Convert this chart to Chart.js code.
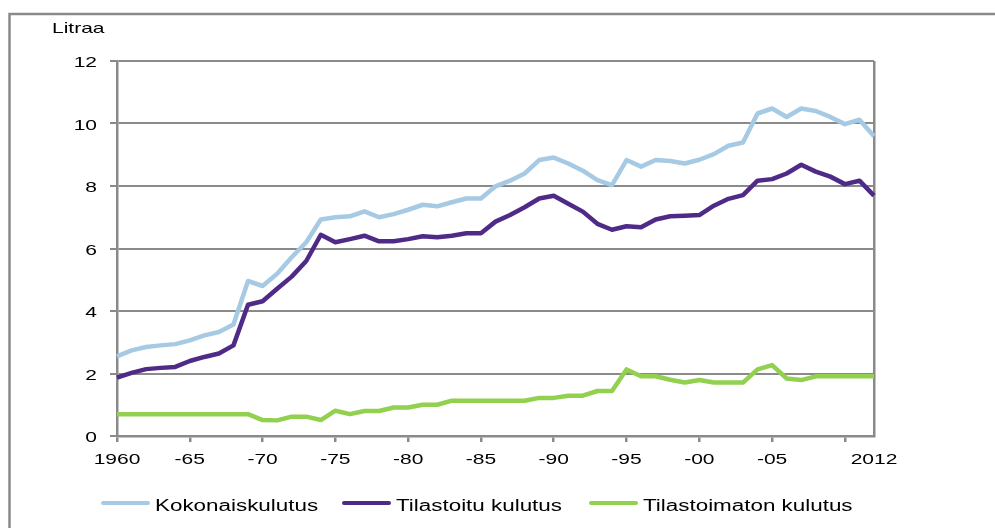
<!DOCTYPE html>
<html>
<head>
<meta charset="utf-8">
<script src="https://cdn.jsdelivr.net/npm/chart.js@4"></script>
<style>
  html, body { margin: 0; padding: 0; background: #fff; }
  #wrap { width: 995px; height: 528px; }
</style>
</head>
<body>
<div id="wrap"><canvas id="chart" width="995" height="528"></canvas></div>
<script>
const years = Array.from({ length: 53 }, (_, i) => 1960 + i);

const kokonais = [
	2.55, 2.74, 2.85, 2.9, 2.94, 3.06, 3.22, 3.33, 3.57, 4.96,
	4.8, 5.19, 5.72, 6.2, 6.93, 7.0, 7.03, 7.19, 7.0, 7.1,
	7.24, 7.4, 7.35, 7.48, 7.6, 7.6, 7.99, 8.17, 8.4, 8.83,
	8.91, 8.72, 8.49, 8.19, 8.03, 8.83, 8.62, 8.83, 8.8, 8.72,
	8.84, 9.02, 9.29, 9.39, 10.32, 10.48, 10.21, 10.48, 10.4, 10.21,
	9.98, 10.12, 9.59
];
const tilastoitu = [
	1.87, 2.02, 2.14, 2.18, 2.21, 2.4, 2.53, 2.64, 2.9, 4.2,
	4.31, 4.71, 5.1, 5.6, 6.44, 6.2, 6.3, 6.41, 6.23, 6.23,
	6.3, 6.39, 6.36, 6.41, 6.49, 6.49, 6.86, 7.07, 7.32, 7.6,
	7.69, 7.43, 7.18, 6.79, 6.6, 6.71, 6.68, 6.93, 7.03, 7.05,
	7.07, 7.37, 7.59, 7.71, 8.17, 8.22, 8.4, 8.68, 8.46, 8.3,
	8.06, 8.17, 7.69
];
const tilastoimaton = [
	0.7, 0.7, 0.7, 0.7, 0.7, 0.7, 0.7, 0.7, 0.7, 0.7,
	0.51, 0.5, 0.62, 0.62, 0.51, 0.81, 0.7, 0.8, 0.8, 0.91,
	0.91, 1.0, 1.0, 1.13, 1.13, 1.13, 1.13, 1.13, 1.13, 1.22,
	1.22, 1.29, 1.29, 1.44, 1.44, 2.13, 1.91, 1.91, 1.8, 1.71,
	1.79, 1.71, 1.71, 1.71, 2.13, 2.27, 1.84, 1.79, 1.91, 1.91,
	1.91, 1.91, 1.91
];

const seriesNames = ['Kokonaiskulutus', 'Tilastoitu kulutus', 'Tilastoimaton kulutus'];
const seriesColors = ['#a6cae3', '#4f2b87', '#92d050'];
const yTitle = 'Litraa';

// x-axis shows 1960, -65 ... -05 and 2012
function yearLabel(y) {
	if (y === 2012) return '2012';
	if (y === 1960) return '1960';
	if (y % 5 === 0 && y < 2010) return '-' + String(y % 100).padStart(2, '0');
	return '';
}

const FONT = "'Liberation Sans', Arial, sans-serif";
const GRID = '#8a8a8a';
const SX = 1.4; // the original's text is drawn horizontally stretched

function drawText(ctx, txt, x, y, size, align, baseline) {
	ctx.save();
	ctx.translate(x, y);
	ctx.scale(SX, 1);
	ctx.font = size + 'px ' + FONT;
	ctx.fillStyle = '#000';
	ctx.textAlign = align;
	ctx.textBaseline = baseline;
	ctx.fillText(txt, 0, 0);
	ctx.restore();
}

const decorPlugin = {
	id: 'decor',
	beforeDraw(chart) {
		const ctx = chart.ctx;
		ctx.save();
		// outer frame (only left + top edge visible)
		ctx.strokeStyle = GRID;
		ctx.lineWidth = 2.5;
		ctx.beginPath();
		ctx.moveTo(9.5, 540);
		ctx.lineTo(9.5, 14);
		ctx.lineTo(1000, 14);
		ctx.stroke();
		ctx.restore();
	},
	afterDraw(chart) {
		const ctx = chart.ctx;
		const xScale = chart.scales.x;
		const yScale = chart.scales.y;

		drawText(ctx, yTitle, 52, 33, 15, 'left', 'alphabetic');

		// tick labels
		xScale.ticks.forEach((t, i) => {
			const lbl = yearLabel(years[i]);
			if (lbl) drawText(ctx, lbl, xScale.getPixelForTick(i), 464, 15, 'center', 'alphabetic');
		});
		yScale.ticks.forEach((t, i) => {
			drawText(ctx, String(t.value), 97, yScale.getPixelForTick(i) + 6, 15, 'right', 'alphabetic');
		});

		// legend
		const xs = [101, 342, 589];
		chart.data.datasets.forEach((ds, i) => {
			ctx.save();
			ctx.strokeStyle = ds.borderColor;
			ctx.lineWidth = 4;
			ctx.lineCap = 'round';
			ctx.beginPath();
			ctx.moveTo(xs[i] + 2, 503);
			ctx.lineTo(xs[i] + 47, 503);
			ctx.stroke();
			ctx.restore();
			drawText(ctx, ds.label, xs[i] + 54, 511, 16, 'left', 'alphabetic');
		});
	}
};

const data = {
	labels: years,
	datasets: [
		{ label: seriesNames[0], data: kokonais, borderColor: seriesColors[0] },
		{ label: seriesNames[1], data: tilastoitu, borderColor: seriesColors[1] },
		{ label: seriesNames[2], data: tilastoimaton, borderColor: seriesColors[2] },
	].map(ds => Object.assign(ds, {
		backgroundColor: ds.borderColor,
		borderWidth: 4.5,
		pointRadius: 0,
		tension: 0,
		borderJoinStyle: 'round',
		fill: false
	}))
};

const config = {
	type: 'line',
	data: data,
	options: {
		responsive: false,
		animation: false,
		layout: { padding: { left: 0, top: 61, right: 121, bottom: 0 } },
		plugins: {
			legend: { display: false },
			tooltip: { enabled: false },
		},
		scales: {
			x: {
				type: 'category',
				offset: false,
				afterFit: (scale) => { scale.height = 92; },
				border: { color: GRID, width: 2.5 },
				grid: {
					drawOnChartArea: true,
					drawTicks: true,
					tickLength: 6,
					lineWidth: 2.5,
					color: (c) => c.index === years.length - 1 ? GRID : 'rgba(0,0,0,0)',
					tickColor: (c) => (years[c.index] % 5 === 0 ? GRID : 'rgba(0,0,0,0)'),
				},
				ticks: {
					display: false,
					autoSkip: false,
				}
			},
			y: {
				min: 0,
				max: 12,
				afterFit: (scale) => { scale.width = 117; },
				border: { color: GRID, width: 2.5 },
				grid: {
					color: GRID,
					lineWidth: 2,
					tickLength: 7,
				},
				ticks: {
					display: false,
					stepSize: 2,
				}
			}
		}
	},
	plugins: [decorPlugin]
};

const ctx = document.getElementById('chart');
const myChart = new Chart(ctx, config);
</script>
</body>
</html>
